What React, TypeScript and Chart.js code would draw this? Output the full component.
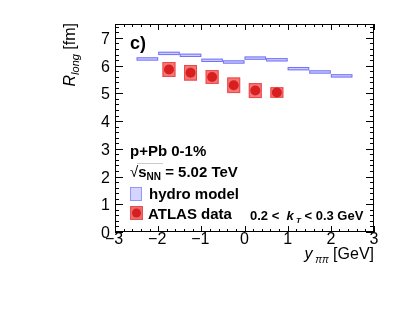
import React, { useEffect, useRef } from "react";
import { Chart, registerables } from "chart.js";
Chart.register(...registerables);

// Hydro model bins (rapidity) and R_long values
const hydroLow = [-2.5, -2.0, -1.5, -1.0, -0.5, 0.0, 0.5, 1.0, 1.5, 2.0];
const hydroHigh = [-2.0, -1.5, -1.0, -0.5, 0.0, 0.5, 1.0, 1.5, 2.0, 2.5];
const hydroValues = [6.24, 6.44, 6.37, 6.19, 6.13, 6.27, 6.21, 5.89, 5.77, 5.63];
const hydroErr = [0.06, 0.06, 0.06, 0.06, 0.06, 0.06, 0.06, 0.06, 0.06, 0.06];

// ATLAS data points
const atlasRapidity = [-1.75, -1.25, -0.75, -0.25, 0.25, 0.75];
const atlasValues = [5.86, 5.74, 5.59, 5.29, 5.1, 5.03];
const atlasSyst = [0.27, 0.28, 0.25, 0.28, 0.27, 0.19];
const atlasHalfWidth = [0.15, 0.15, 0.15, 0.15, 0.15, 0.15];

const xTicks = [-3, -2, -1, 0, 1, 2, 3];
const yTicks = [0, 1, 2, 3, 4, 5, 6, 7];

const FONT = '"Liberation Sans", Arial, Helvetica, sans-serif';

type Seg = { t: string; f: string; dy?: number };

function drawRich(ctx: CanvasRenderingContext2D, segs: Seg[], x: number, y: number, align: "left" | "right" = "left") {
  let total = 0;
  for (const s of segs) {
    ctx.font = s.f;
    total += ctx.measureText(s.t).width;
  }
  let cx = align === "right" ? x - total : x;
  const pos: number[] = [];
  for (const s of segs) {
    ctx.font = s.f;
    ctx.textAlign = "left";
    ctx.textBaseline = "alphabetic";
    pos.push(cx);
    ctx.fillText(s.t, cx, y + (s.dy || 0));
    cx += ctx.measureText(s.t).width;
  }
  return pos;
}

const framePlugin = {
  id: "rootFrame",
  beforeDatasetsDraw(chart: any) {
    const ctx: CanvasRenderingContext2D = chart.ctx;
    const xs = chart.scales.x;
    const ys = chart.scales.y;
    ctx.save();
    // hydro boxes
    for (let i = 0; i < hydroValues.length; i++) {
      const x0 = xs.getPixelForValue(hydroLow[i]);
      const x1 = xs.getPixelForValue(hydroHigh[i]);
      const y0 = ys.getPixelForValue(hydroValues[i] + hydroErr[i]);
      const y1 = ys.getPixelForValue(hydroValues[i] - hydroErr[i]);
      ctx.fillStyle = "rgba(205,205,255,1)";
      ctx.fillRect(x0, y0, x1 - x0, y1 - y0);
      ctx.strokeStyle = "rgba(110,110,250,0.95)";
      ctx.lineWidth = 1;
      ctx.strokeRect(x0 + 0.5, y0 + 0.5, x1 - x0 - 1, y1 - y0 - 1);
    }
    // ATLAS systematic boxes
    for (let i = 0; i < atlasValues.length; i++) {
      const x0 = xs.getPixelForValue(atlasRapidity[i] - atlasHalfWidth[i]);
      const x1 = xs.getPixelForValue(atlasRapidity[i] + atlasHalfWidth[i]);
      const y0 = ys.getPixelForValue(atlasValues[i] + atlasSyst[i]);
      const y1 = ys.getPixelForValue(atlasValues[i] - atlasSyst[i]);
      ctx.fillStyle = "rgba(242,120,120,1)";
      ctx.fillRect(x0, y0, x1 - x0, y1 - y0);
      ctx.strokeStyle = "#f04848";
      ctx.lineWidth = 1;
      ctx.strokeRect(x0 + 0.5, y0 + 0.5, x1 - x0 - 1, y1 - y0 - 1);
    }
    ctx.restore();
  },
  afterDraw(chart: any) {
    const ctx: CanvasRenderingContext2D = chart.ctx;
    const xs = chart.scales.x;
    const ys = chart.scales.y;
    const a = chart.chartArea;
    const L = Math.round(a.left), R = Math.round(a.right), T = Math.round(a.top), B = Math.round(a.bottom);
    ctx.save();
    ctx.strokeStyle = "#000";
    ctx.lineWidth = 1;
    ctx.strokeRect(L + 0.5, T + 0.5, R - L - 1, B - T - 1);
    ctx.beginPath();
    // x ticks (bottom and top)
    for (let k = 0; k <= 30; k++) {
      const v = -3 + k * 0.2;
      const px = Math.round(xs.getPixelForValue(v)) + 0.5;
      const len = k % 5 === 0 ? 6 : 3;
      ctx.moveTo(px, B);
      ctx.lineTo(px, B - len);
      ctx.moveTo(px, T);
      ctx.lineTo(px, T + len);
    }
    // y ticks (left and right)
    for (let k = 0; k <= 37; k++) {
      const v = k * 0.2;
      const py = Math.round(ys.getPixelForValue(v)) + 0.5;
      const len = k % 5 === 0 ? 8 : 4;
      ctx.moveTo(L, py);
      ctx.lineTo(L + len, py);
      ctx.moveTo(R, py);
      ctx.lineTo(R - len, py);
    }
    ctx.stroke();

    // tick labels
    ctx.fillStyle = "#000";
    ctx.font = `16px ${FONT}`;
    ctx.textBaseline = "alphabetic";
    ctx.textAlign = "right";
    for (const v of yTicks) {
      ctx.fillText(String(v), 110, ys.getPixelForValue(v) + 6);
    }
    ctx.textAlign = "center";
    for (const v of xTicks) {
      const s = v < 0 ? "\u2212" + Math.abs(v) : String(v);
      ctx.fillText(s, xs.getPixelForValue(v) - (v < 0 ? 1 : 0), 244);
    }

    // x title
    drawRich(ctx, [
      { t: "y", f: `italic 16px ${FONT}` },
      { t: " \u03c0\u03c0", f: `italic 10px ${FONT}`, dy: 4 },
      { t: " [GeV]", f: `16px ${FONT}` },
    ], 374, 259, "right");

    // y title (rotated)
    ctx.save();
    ctx.translate(75, 23);
    ctx.rotate(-Math.PI / 2);
    drawRich(ctx, [
      { t: "R", f: `italic 16px ${FONT}` },
      { t: "long", f: `italic 11px ${FONT}`, dy: 4 },
      { t: " [fm]", f: `16px ${FONT}` },
    ], 0, 0, "right");
    ctx.restore();

    // panel label
    ctx.font = `bold 18px ${FONT}`;
    ctx.textAlign = "left";
    ctx.fillText("c)", 130, 49);

    // legend text
    ctx.font = `bold 15px ${FONT}`;
    ctx.fillText("p+Pb 0-1%", 130, 156);
    const p = drawRich(ctx, [
      { t: "\u221a", f: `15px ${FONT}` },
      { t: "s", f: `bold 15px ${FONT}` },
      { t: "NN", f: `bold 10px ${FONT}`, dy: 3 },
      { t: " = 5.02 TeV", f: `bold 15px ${FONT}` },
    ], 130, 177);
    ctx.beginPath();
    ctx.moveTo(p[1] - 1, 163.5);
    ctx.lineTo(p[3] + 2, 163.5);
    ctx.strokeStyle = "#ccc";
    ctx.stroke();

    ctx.fillStyle = "#000";
    ctx.font = `bold 15px ${FONT}`;
    ctx.fillText("hydro model", 149, 199);
    ctx.fillText("ATLAS data", 148, 219);

    drawRich(ctx, [
      { t: "0.2 <  ", f: `bold 13px ${FONT}` },
      { t: "k", f: `italic bold 13px ${FONT}` },
      { t: " T", f: `italic bold 8px ${FONT}`, dy: 3 },
      { t: " < 0.3 GeV", f: `bold 13px ${FONT}` },
    ], 250, 220);

    // legend markers
    ctx.fillStyle = "rgba(212,212,255,1)";
    ctx.fillRect(130, 187, 12, 14);
    ctx.strokeStyle = "rgba(150,150,250,1)";
    ctx.strokeRect(130.5, 187.5, 11, 13);
    ctx.fillStyle = "rgba(230,110,110,1)";
    ctx.fillRect(130, 206, 13, 14);
    ctx.strokeStyle = "#e85050";
    ctx.strokeRect(130.5, 206.5, 12, 13);
    ctx.beginPath();
    ctx.arc(136.5, 213, 4.5, 0, Math.PI * 2);
    ctx.fillStyle = "#d81e1e";
    ctx.fill();
    ctx.restore();
  },
};

export default function App() {
  const ref = useRef<HTMLCanvasElement>(null);
  useEffect(() => {
    if (!ref.current) return;
    const chart = new Chart(ref.current, {
      type: "scatter",
      data: {
        datasets: [
          {
            label: "ATLAS data",
            data: atlasRapidity.map((x, i) => ({ x, y: atlasValues[i] })),
            pointRadius: 5,
            pointHoverRadius: 5,
            backgroundColor: "#d81e1e",
            borderWidth: 0,
          },
        ],
      },
      options: {
        animation: false,
        responsive: false,
        devicePixelRatio: 1,
        layout: { padding: { left: 115, right: 41, top: 24, bottom: 81 } },
        scales: {
          x: { type: "linear", min: -3, max: 3, display: false },
          y: { type: "linear", min: 0, max: 7.5, display: false },
        },
        plugins: { legend: { display: false }, tooltip: { enabled: false } },
      },
      plugins: [framePlugin],
    });
    return () => chart.destroy();
  }, []);
  return (
    <div style={{ position: "absolute", left: 0, top: 0, width: 415, height: 313, background: "#fff" }}>
      <canvas ref={ref} width={415} height={313} style={{ display: "block", width: 415, height: 313 }} />
    </div>
  );
}
